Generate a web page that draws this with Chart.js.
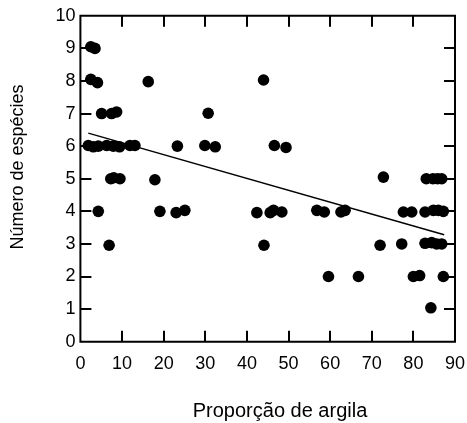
<!DOCTYPE html>
<html>
<head>
<meta charset="utf-8">
<script src="https://cdn.jsdelivr.net/npm/chart.js@4.4.1/dist/chart.umd.min.js"></script>
<style>
    body { margin: 0; background: #fff; }
    #wrap { width: 467px; height: 423px; }
</style>
</head>
<body>
<div id="wrap"><canvas id="argilaChart" width="467" height="423"></canvas></div>
<script>
// Proporção de argila (x) vs número de espécies (y)
const proporcaoArgila = [
    2.5, 3.5,
    2.5, 4.1, 16.3, 44.0,
    5.1, 7.5, 8.7, 30.7,
    1.9, 3.1, 4.3, 6.3, 7.9, 9.4, 11.9, 13.1, 23.3, 29.9, 32.4, 46.6, 49.4,
    7.3, 8.0, 9.5, 17.9, 72.8, 83.1, 84.7, 85.8, 86.8,
    4.3, 19.1, 23.0, 25.1, 42.4, 45.6, 46.4, 48.4, 56.8, 58.6, 62.6, 63.6, 77.6, 79.6, 82.8, 84.8, 86.0, 87.2,
    6.9, 44.1, 72.0, 77.2, 82.8, 84.4, 85.6, 86.8,
    59.6, 66.8, 80.0, 81.5, 87.2,
    84.2
];
const numeroEspecies = [
    9.05, 9.0,
    8.05, 7.95, 7.98, 8.03,
    7.0, 7.0, 7.05, 7.01,
    6.02, 5.98, 6.0, 6.02, 6.0, 5.98, 6.02, 6.02, 6.0, 6.02, 5.98, 6.02, 5.96,
    5.0, 5.03, 5.0, 4.97, 5.05, 5.0, 5.0, 5.0, 5.0,
    4.0, 4.0, 3.96, 4.03, 3.96, 3.96, 4.03, 3.98, 4.03, 3.98, 3.98, 4.03, 3.98, 3.98, 3.98, 4.03, 4.03, 4.0,
    2.96, 2.96, 2.96, 3.0, 3.02, 3.04, 3.0, 3.0,
    2.0, 2.0, 2.0, 2.03, 2.0,
    1.04
];

// Reta de regressão (extremos)
const retaX = [1.9, 87.4];
const retaY = [6.40, 3.28];

const xTicks = [0, 10, 20, 30, 40, 50, 60, 70, 80, 90];
const yTicks = [0, 1, 2, 3, 4, 5, 6, 7, 8, 9, 10];

const FONT = "'Liberation Sans', Arial, sans-serif";

// frame with inward tick marks on all four sides, plus the axis titles
const frameAndTitles = {
    id: 'frameAndTitles',
    afterDraw(chart) {
        const c = chart.ctx;
        const a = chart.chartArea;
        const xs = chart.scales.x;
        const ys = chart.scales.y;
        const len = 11;
        c.save();
        c.strokeStyle = '#000';
        c.lineWidth = 2;
        c.beginPath();
        c.rect(a.left, a.top, a.right - a.left, a.bottom - a.top);
        for (const v of xTicks.slice(1, -1)) {
            const px = Math.round(xs.getPixelForValue(v));
            c.moveTo(px, a.bottom); c.lineTo(px, a.bottom - len);
            c.moveTo(px, a.top); c.lineTo(px, a.top + len);
        }
        for (const v of yTicks.slice(1, -1)) {
            const py = Math.round(ys.getPixelForValue(v));
            c.moveTo(a.left, py); c.lineTo(a.left + len, py);
            c.moveTo(a.right, py); c.lineTo(a.right - len, py);
        }
        c.stroke();

        c.fillStyle = '#000';
        c.textAlign = 'center';
        c.textBaseline = 'alphabetic';
        c.font = '20px ' + FONT;
        c.fillText('Proporção de argila', 280, 417);
        c.translate(23, 167);
        c.rotate(-Math.PI / 2);
        c.font = '18px ' + FONT;
        c.fillText('Número de espécies', 0, 0);
        c.restore();
    }
};

const ctx = document.getElementById('argilaChart').getContext('2d');

new Chart(ctx, {
    type: 'scatter',
    data: {
        datasets: [{
            data: proporcaoArgila.map((v, i) => ({ x: v, y: numeroEspecies[i] })),
            backgroundColor: '#000',
            borderWidth: 0,
            pointRadius: 5.8,
            pointHoverRadius: 5.8
        }, {
            type: 'line',
            data: retaX.map((v, i) => ({ x: v, y: retaY[i] })),
            borderColor: '#000',
            borderWidth: 1.5,
            pointRadius: 0,
            fill: false
        }]
    },
    options: {
        responsive: false,
        animation: false,
        layout: { padding: { top: 15, right: 2, left: 0, bottom: 0 } },
        plugins: {
            legend: { display: false },
            tooltip: { enabled: false }
        },
        scales: {
            x: {
                type: 'linear',
                min: 0,
                max: 90,
                afterFit: s => {
                    s.height = 81.3;
                    s.paddingLeft = 0;
                    s.paddingRight = 12;
                },
                afterBuildTicks: s => { s.ticks = xTicks.map(v => ({ value: v })); },
                grid: { display: false, drawTicks: false },
                border: { display: false },
                ticks: {
                    autoSkip: false,
                    maxRotation: 0,
                    padding: 12,
                    color: '#000',
                    font: { family: FONT, size: 18 }
                }
            },
            y: {
                type: 'linear',
                min: 0,
                max: 10,
                afterFit: s => { s.width = 80.4; },
                afterBuildTicks: s => { s.ticks = yTicks.map(v => ({ value: v })); },
                grid: { display: false, drawTicks: false },
                border: { display: false },
                ticks: {
                    autoSkip: false,
                    padding: 5,
                    color: '#000',
                    font: { family: FONT, size: 18 }
                }
            }
        }
    },
    plugins: [frameAndTitles]
});
</script>
</body>
</html>
